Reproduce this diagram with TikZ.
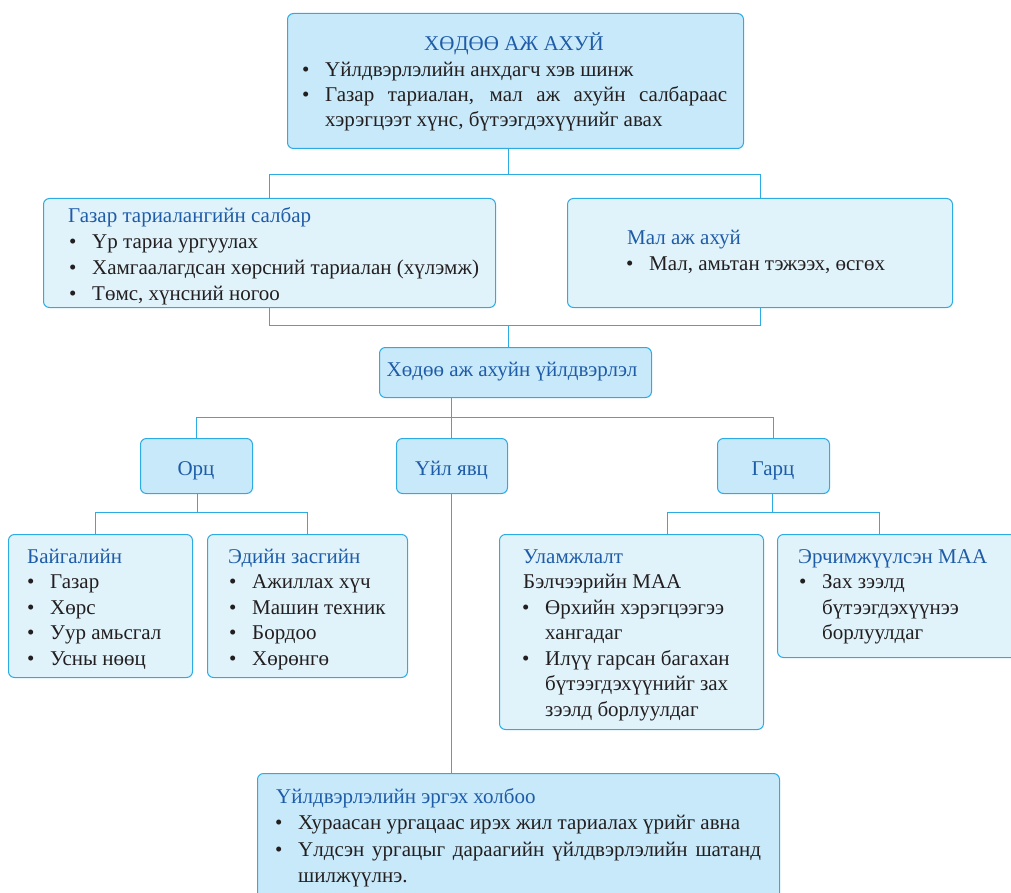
\documentclass[tikz,border=0pt]{standalone}
\usepackage{fontspec}
\setmainfont{Liberation Serif}
\definecolor{bord}{HTML}{2DACE3}
\definecolor{dfill}{HTML}{C8E9F9}
\definecolor{lfill}{HTML}{E0F3FB}
\definecolor{tblue}{HTML}{1F5CA8}
\definecolor{tblack}{HTML}{231F20}
\newcommand{\bl}{\makebox[23pt][l]{•}}
\begin{document}
\begin{tikzpicture}[x=1pt,y=-1pt,
 box/.style={draw=bord, line width=1pt, rounded corners=6pt, inner sep=0pt, anchor=north west},
 dbox/.style={box, fill=dfill},
 lbox/.style={box, fill=lfill},
 conn/.style={draw=bord, line width=1pt},
 txt/.style={inner sep=0pt, anchor=base west, font=\fontsize{21}{25}\selectfont, text=tblack},
 ttl/.style={txt, text=tblue},
 ctl/.style={ttl, anchor=base},
]
\useasboundingbox (0,0) rectangle (1011,893);
\begin{scope}
\clip (0,0) rectangle (1011,893);
% boxes
\node[dbox, minimum width=456pt, minimum height=135pt] (top) at (287,13) {};
\node[lbox, minimum width=452pt, minimum height=109pt] (gaz) at (43,198) {};
\node[lbox, minimum width=385pt, minimum height=109pt] (mal) at (567,198) {};
\node[dbox, minimum width=272pt, minimum height=50pt] (prod) at (379,347) {};
\node[dbox, minimum width=112pt, minimum height=55pt] (orc) at (140,438) {};
\node[dbox, minimum width=111pt, minimum height=55pt] (uil) at (396,438) {};
\node[dbox, minimum width=112pt, minimum height=55pt] (garc) at (717,438) {};
\node[lbox, minimum width=184pt, minimum height=143pt] (bai) at (8,534) {};
\node[lbox, minimum width=200pt, minimum height=143pt] (ede) at (207,534) {};
\node[lbox, minimum width=264pt, minimum height=195pt] (ul) at (499,534) {};
\node[lbox, minimum width=253pt, minimum height=123pt] (er) at (777,534) {};
\node[dbox, minimum width=522pt, minimum height=147pt] (bot) at (257,773) {};
% junctions
\coordinate (j1) at (508,175);
\coordinate (j2) at (508,325);
\coordinate (j3) at (451,417);
\coordinate (j4) at (197,512);
\coordinate (j4a) at (95,512);
\coordinate (j4b) at (307,512);
\coordinate (j5) at (772,512);
\coordinate (j5a) at (667,512);
\coordinate (j5b) at (879,512);
% connectors
\draw[conn] (top.south -| j1) -- (j1);
\draw[conn] (j1) -| (gaz.north);
\draw[conn] (j1) -| (mal.north);
\draw[conn] (gaz.south) |- (j2);
\draw[conn] (mal.south) |- (j2);
\draw[conn] (j2) -- (prod.north -| j2);
\draw[conn] (prod.south -| j3) -- (j3);
\draw[conn] (j3) -| (orc.north);
\draw[conn] (j3) -| (garc.north);
\draw[conn] (j3) -- (uil.north -| j3);
\draw[conn] (uil.south -| j3) -- (bot.north -| j3);
\draw[conn] (orc.south -| j4) -- (j4);
\draw[conn] (j4a) -- (j4b);
\draw[conn] (j4a) -- (bai.north -| j4a);
\draw[conn] (j4b) -- (ede.north -| j4b);
\draw[conn] (garc.south -| j5) -- (j5);
\draw[conn] (j5a) -- (j5b);
\draw[conn] (j5a) -- (ul.north -| j5a);
\draw[conn] (j5b) -- (er.north -| j5b);
% texts: top
\node[ctl] (t0) at (514,51) {ХӨДӨӨ АЖ АХУЙ};
\node[txt] (t1) at (302,77) {\bl Үйлдвэрлэлийн анхдагч хэв шинж};
\node[txt] (t2) at (302,102) {\bl\makebox[402pt][s]{Газар тариалан, мал аж ахуйн салбараас}};
\node[txt] (t3) at (325,127) {хэрэгцээт хүнс, бүтээгдэхүүнийг авах};
% gaz
\node[ttl] (g0) at (68,223) {Газар тариалангийн салбар};
\node[txt] (g1) at (69,249) {\bl Үр тариа ургуулах};
\node[txt] (g2) at (69,274.5) {\bl Хамгаалагдсан хөрсний тариалан (хүлэмж)};
\node[txt] (g3) at (69,300) {\bl Төмс, хүнсний ногоо};
% mal
\node[ttl] (m0) at (627,244) {Мал аж ахуй};
\node[txt] (m1) at (626,270) {\bl Мал, амьтан тэжээх, өсгөх};
% prod
\node[ctl] (p0) at (512,376) {Хөдөө аж ахуйн үйлдвэрлэл};
\node[ctl] (o0) at (196,475) {Орц};
\node[ctl] (u0) at (451.5,475) {Үйл явц};
\node[ctl] (r0) at (773,475) {Гарц};
% bai
\node[ttl] (b0) at (27,563) {Байгалийн};
\node[txt] (b1) at (27,588.5) {\bl Газар};
\node[txt] (b2) at (27,614) {\bl Хөрс};
\node[txt] (b3) at (27,639.5) {\bl Уур амьсгал};
\node[txt] (b4) at (27,665) {\bl Усны нөөц};
% ede
\node[ttl] (e0) at (228,563) {Эдийн засгийн};
\node[txt] (e1) at (229,588.5) {\bl Ажиллах хүч};
\node[txt] (e2) at (229,614) {\bl Машин техник};
\node[txt] (e3) at (229,639.5) {\bl Бордоо};
\node[txt] (e4) at (229,665) {\bl Хөрөнгө};
% ul
\node[ttl] (l0) at (523,563) {Уламжлалт};
\node[txt] (l1) at (523,588.5) {Бэлчээрийн МАА};
\node[txt] (l2) at (522,614) {\bl Өрхийн хэрэгцээгээ};
\node[txt] (l3) at (545,639.5) {хангадаг};
\node[txt] (l4) at (522,665) {\bl Илүү гарсан багахан};
\node[txt] (l5) at (545,690.5) {бүтээгдэхүүнийг зах};
\node[txt] (l6) at (545,716) {зээлд борлуулдаг};
% er
\node[ttl] (r1) at (798,563) {Эрчимжүүлсэн МАА};
\node[txt] (r2) at (799,588.5) {\bl Зах зээлд};
\node[txt] (r3) at (822,614) {бүтээгдэхүүнээ};
\node[txt] (r4) at (822,639.5) {борлуулдаг};
% bot
\node[ttl] (s0) at (276,803) {Үйлдвэрлэлийн эргэх холбоо};
\node[txt] (s1) at (275,829.5) {\bl Хураасан ургацаас ирэх жил тариалах үрийг авна};
\node[txt] (s2) at (275,856) {\bl\makebox[463pt][s]{Үлдсэн ургацыг дараагийн үйлдвэрлэлийн шатанд}};
\node[txt] (s3) at (298,882.5) {шилжүүлнэ.};
\end{scope}
\end{tikzpicture}
\end{document}
